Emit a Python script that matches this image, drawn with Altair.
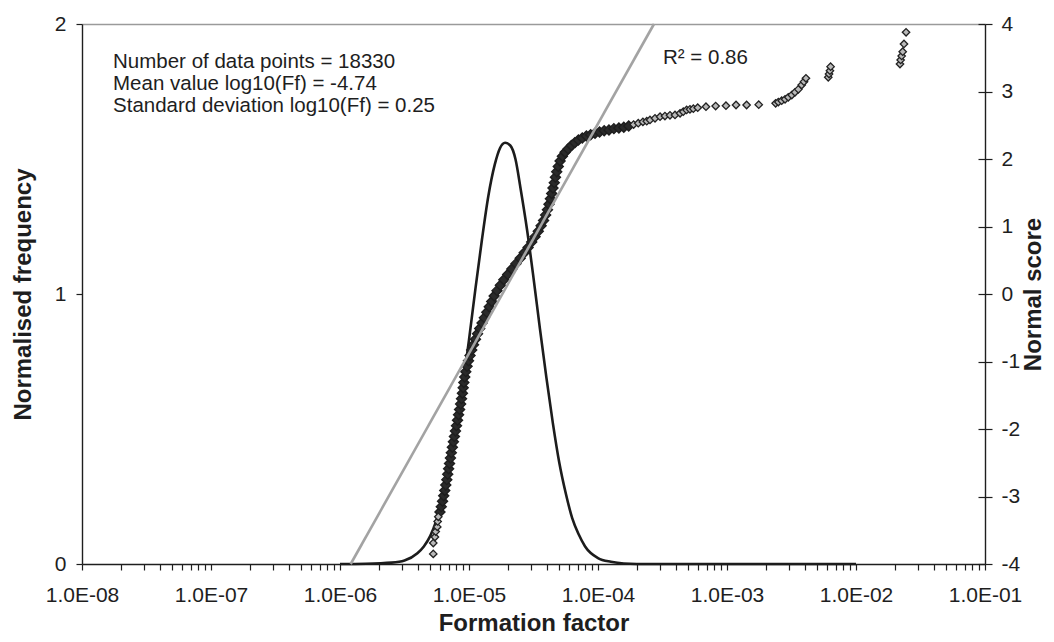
import altair as alt
import pandas as pd

# ---- Normal density curve (normalised frequency, left axis) ----
pdf_log10 = [-6.0, -5.8, -5.6, -5.5, -5.4, -5.35, -5.3, -5.25, -5.2, -5.15, -5.1, -5.05,
             -5.0, -4.95, -4.9, -4.85, -4.8, -4.76, -4.72, -4.68, -4.64, -4.6, -4.55, -4.5,
             -4.45, -4.4, -4.35, -4.3, -4.25, -4.2, -4.15, -4.1, -4.0, -3.9, -3.8,
             -3.6, -3.0, -2.5, -2.0]
pdf_value = [0.0, 0.001, 0.005, 0.013, 0.04, 0.065, 0.104, 0.165, 0.25, 0.356, 0.49, 0.653,
             0.83, 1.02, 1.20, 1.363, 1.48, 1.54, 1.56, 1.55, 1.50, 1.39, 1.238, 1.06,
             0.871, 0.69, 0.522, 0.375, 0.262, 0.17, 0.11, 0.065, 0.022, 0.008, 0.002,
             0.0, 0.0, 0.0, 0.0]

# ---- Normal score (Q-Q) points, right axis: densely packed part of the plot ----
qq_band_log10 = [-5.225, -5.215, -5.205,
                 -5.196, -5.188, -5.180, -5.172, -5.165, -5.158, -5.151, -5.144, -5.137, -5.129,
                 -5.121, -5.113, -5.105, -5.097, -5.089, -5.081, -5.073, -5.065, -5.058, -5.051,
                 -5.045, -5.040, -5.033, -5.025, -5.015, -5.004, -4.992, -4.979, -4.965, -4.950,
                 -4.934, -4.917, -4.899, -4.881, -4.862, -4.843, -4.824, -4.805, -4.783, -4.757,
                 -4.730, -4.700, -4.668, -4.636, -4.603, -4.572, -4.542, -4.514, -4.488, -4.463,
                 -4.441, -4.422, -4.406, -4.392, -4.380, -4.369, -4.359, -4.349, -4.339, -4.330,
                 -4.320, -4.308, -4.294, -4.276, -4.255, -4.232, -4.206, -4.180, -4.152, -4.122,
                 -4.090, -4.057, -4.023, -3.988, -3.952, -3.915, -3.877, -3.838, -3.800, -3.762]
qq_band_score = [-3.23, -3.15, -3.07,
                 -2.99, -2.91, -2.83, -2.75, -2.67, -2.59, -2.51, -2.43, -2.35, -2.27,
                 -2.19, -2.11, -2.03, -1.95, -1.87, -1.79, -1.71, -1.63, -1.55, -1.47,
                 -1.39, -1.31, -1.23, -1.15, -1.07, -0.99, -0.91, -0.83, -0.75, -0.67,
                 -0.59, -0.51, -0.43, -0.35, -0.27, -0.19, -0.11, -0.03, 0.05, 0.13,
                 0.21, 0.29, 0.37, 0.45, 0.53, 0.61, 0.69, 0.77, 0.85, 0.93,
                 1.01, 1.09, 1.17, 1.25, 1.33, 1.41, 1.49, 1.57, 1.65, 1.73,
                 1.81, 1.89, 1.97, 2.04, 2.10, 2.15, 2.20, 2.24, 2.28, 2.31,
                 2.34, 2.36, 2.38, 2.40, 2.42, 2.43, 2.45, 2.46, 2.47, 2.49]

# ---- Normal score (Q-Q) points: the separated points of both tails ----
qq_tail_log10 = [-5.277, -5.277, -5.264, -5.258, -5.246, -5.243, -5.238,
                 -3.724, -3.688, -3.652, -3.622, -3.597, -3.558, -3.519, -3.481, -3.442, -3.403,
                 -3.364, -3.339, -3.313, -3.287, -3.261, -3.227, -3.163, -3.088, -3.008, -2.930,
                 -2.848, -2.754, -2.623, -2.602, -2.576, -2.550, -2.525, -2.498, -2.473, -2.447,
                 -2.421, -2.403, -2.388, -2.215, -2.209, -2.202, -2.197, -1.659, -1.654, -1.646,
                 -1.638, -1.628, -1.612]
qq_tail_score = [-3.85, -3.69, -3.60, -3.52, -3.45, -3.37, -3.30,
                 2.51, 2.53, 2.55, 2.56, 2.578, 2.603, 2.627, 2.637, 2.647, 2.652,
                 2.677, 2.701, 2.726, 2.736, 2.745, 2.760, 2.775, 2.785, 2.790, 2.800,
                 2.800, 2.805, 2.825, 2.844, 2.864, 2.884, 2.914, 2.948, 2.988, 3.032,
                 3.096, 3.146, 3.196, 3.210, 3.259, 3.308, 3.368, 3.407, 3.467, 3.526,
                 3.590, 3.704, 3.877]

# ---- Linear fit of normal score (grey line) ----
fit_log10 = [-5.917, -3.566]
fit_score = [-4.0, 4.0]

# ---- Annotations ----
info_lines = ["Number of data points = 18330",
              "Mean value log10(Ff) = -4.74",
              "Standard deviation log10(Ff) = 0.25"]
info_ff = [1.74e-8, 1.74e-8, 1.74e-8]
info_val = [1.837, 1.756, 1.674]
r2_label = ["R\u00b2 = 0.86"]
r2_ff = [3.19e-4]
r2_val = [1.852]

x_ticks = [k * 10.0 ** e for e in range(-8, -1) for k in range(1, 10)] + [0.1]
left_ticks = [0, 1, 2]
right_ticks = [-4, -3, -2, -1, 0, 1, 2, 3, 4]

df_pdf = pd.DataFrame({"ff": [10.0 ** v for v in pdf_log10], "val": pdf_value})
df_band = pd.DataFrame({"ff": [10.0 ** v for v in qq_band_log10], "score": qq_band_score})
df_tail = pd.DataFrame({"ff": [10.0 ** v for v in qq_tail_log10], "score": qq_tail_score})
df_fit = pd.DataFrame({"ff": [10.0 ** v for v in fit_log10], "score": fit_score})
df_txt = pd.DataFrame({"ff": info_ff + r2_ff, "val": info_val + r2_val,
                       "label": info_lines + r2_label})

FONT = "Liberation Sans"
xscale = alt.Scale(type="log", domain=[1e-8, 1e-1], nice=False)
lscale = alt.Scale(domain=[0, 2], nice=False, zero=False)
rscale = alt.Scale(domain=[-4, 4], nice=False, zero=False)

label_expr = ("abs(log(datum.value)/LN10 - round(log(datum.value)/LN10)) < 0.001 ? "
              "'1.0E-0' + (-round(log(datum.value)/LN10)) : ''")
plain_expr = "'' + datum.value"

density = alt.Chart(df_pdf).mark_line(
    color="#1c1c1c", strokeWidth=2.6, interpolate="monotone"
).encode(
    x=alt.X("ff:Q", scale=xscale,
            axis=alt.Axis(orient="bottom", values=x_ticks, labelExpr=label_expr,
                          labelFlush=False, labelOverlap=False, tickSize=6,
                          labelPadding=14, title="Formation factor",
                          titleX=451.5, titleY=66, titleAlign="center",
                          titleBaseline="alphabetic", titleAnchor="middle")),
    y=alt.Y("val:Q", scale=lscale,
            axis=alt.Axis(orient="left", values=left_ticks, labelExpr=plain_expr,
                          tickSize=6, labelPadding=10,
                          title="Normalised frequency", titleX=-59, titleY=270,
                          titleAngle=270, titleAlign="center", titleBaseline="middle")),
)

band = alt.Chart(df_band).mark_point(
    shape="diamond", filled=True, fill="#2a2a2a", stroke="#1e1e1e",
    strokeWidth=1.4, size=100, opacity=1, fillOpacity=1, strokeOpacity=1
).encode(
    x=alt.X("ff:Q", scale=xscale,
            axis=alt.Axis(orient="top", ticks=False, labels=False, title=None,
                          domainColor="#9a9a9a", domainWidth=1.6)),
    y=alt.Y("score:Q", scale=rscale,
            axis=alt.Axis(orient="right", values=right_ticks, labelExpr=plain_expr,
                          tickSize=7, labelPadding=9,
                          title="Normal score", titleX=48, titleY=270, titleAngle=270,
                          titleAlign="center", titleBaseline="middle")),
)

tail = alt.Chart(df_tail).mark_point(
    shape="diamond", filled=True, fill="#b9b9b9", stroke="#222222",
    strokeWidth=1.3, size=55, opacity=1, fillOpacity=1, strokeOpacity=1
).encode(
    x=alt.X("ff:Q", scale=xscale, axis=None),
    y=alt.Y("score:Q", scale=rscale, axis=None),
)

fit = alt.Chart(df_fit).mark_line(color="#a3a3a3", strokeWidth=2.6).encode(
    x=alt.X("ff:Q", scale=xscale, axis=None),
    y=alt.Y("score:Q", scale=rscale,
            axis=alt.Axis(orient="right", values=right_ticks, offset=-7, tickSize=7,
                          domain=False, labels=False, title=None)),
)

texts = alt.Chart(df_txt).mark_text(
    align="left", baseline="alphabetic", font=FONT, fontSize=20.5, color="#1e1e1e"
).encode(
    x=alt.X("ff:Q", scale=xscale, axis=None),
    y=alt.Y("val:Q", scale=lscale, axis=None),
    text="label:N",
)

chart = alt.layer(density, band, tail, fit, texts).resolve_scale(
    y="independent"
).resolve_axis(
    x="independent", y="independent"
).properties(
    width=903, height=540,
    padding={"left": 74, "top": 16, "right": 61, "bottom": 70},
    autosize=alt.AutoSizeParams(type="none"),
    background="white",
).configure_view(
    stroke="transparent"
).configure_axis(
    grid=False,
    labelFont=FONT, labelFontSize=21, labelColor="#1e1e1e",
    titleFont=FONT, titleFontSize=24, titleFontWeight="bold", titleColor="#1e1e1e",
    domainColor="#1e1e1e", domainWidth=1.4, tickColor="#1e1e1e", tickWidth=1.2,
)

chart.save("out.html", embed_options={"renderer": "svg", "actions": False})
